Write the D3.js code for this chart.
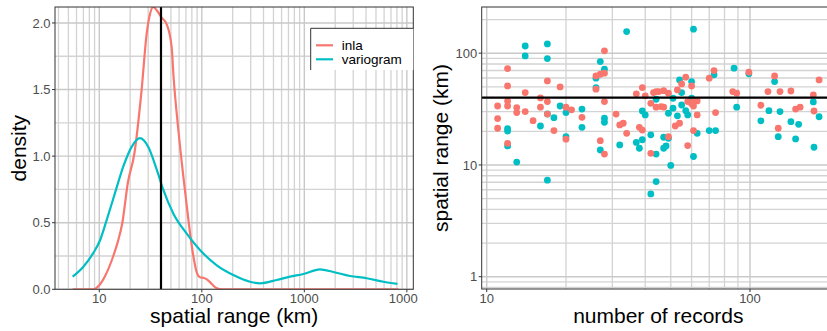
<!DOCTYPE html>
<html>
<head>
<meta charset="utf-8">
<script src="https://cdn.jsdelivr.net/npm/d3@7"></script>
<style>
  body { margin: 0; background: #fff; }
  svg { display: block; font-family: "Liberation Sans", Arial, sans-serif; }
</style>
</head>
<body>
<div id="chart"></div>
<script>
// ---- data ----
const seriesNames = ["inla", "variogram"];
const seriesColors = ["#F8766D", "#00BFC4"];

// density curves: spatial range (km) vs density
const inlaRange = [5.5, 8.7, 10, 11.4, 13.7, 15.2, 16.8, 19, 22, 25.9, 29, 31.3, 33.6, 36, 40.6, 45.5, 50.8, 53, 59, 66, 73.8, 81.5, 89, 96, 105, 112, 125, 140, 160, 8280];
const inlaDensity = [0, 0, 0.03, 0.1, 0.25, 0.36, 0.5, 0.8, 1.02, 1.5, 1.92, 2.07, 2.12, 2.1, 2.04, 1.99, 1.82, 1.6, 1.2, 0.85, 0.53, 0.28, 0.13, 0.09, 0.085, 0.075, 0.04, 0.008, 0, 0];
const varioRange = [5.5, 7, 8.7, 10.2, 11.8, 14.2, 17.1, 20.7, 24.9, 30, 36.3, 42, 52.7, 71, 96, 140, 203, 295, 370, 537, 725, 980, 1420, 1920, 2790, 4060, 5900, 8090];
const varioDensity = [0.095, 0.17, 0.27, 0.37, 0.52, 0.72, 0.92, 1.07, 1.135, 1.07, 0.9, 0.75, 0.57, 0.42, 0.295, 0.18, 0.107, 0.057, 0.045, 0.07, 0.095, 0.115, 0.15, 0.13, 0.10, 0.083, 0.057, 0.04];

// scatter: [number of records, spatial range km]
const inlaPoints = [
  [12,72.8],[12,50.9],[17,56.5],[19,49.9],[14,44.4],[16,39.8],[17,36.9],[12,37.4],[12,33.7],[11,33.7],
  [13,32.6],[13,29.4],[14,30.0],[16,32.9],[17,28.5],[11,26.0],[11,21.3],[15,24.9],[18,20.3],[12,15.6],
  [20,17.0],[20,32.9],[21,31.1],
  [28,105],[28,66.2],[27,64.8],[26,62.6],[26,47.6],[28,36.9],[23,26.7],[27,16.5],[28,12.5],[31,28.5],
  [32,22.8],[33,23.6],[34,19.2],[37,43.3],[39,49.2],[40,41.5],[42,35.6],[44,32.9],[44,45.3],[43,44.4],
  [38,21.7],[39,20.5],[42,12.7],
  [73,69.9],[70,59.7],[57,61],[60,50.9],[55,53.1],[53,46.9],[47,46.2],[45,45.3],[49,43.9],[86,45.3],
  [89,43.9],[46,33.3],[47,32.9],[58,36.9],[61,36.9],[63,37.4],[61,33.7],[60,35.2],[63,28],[74,29.4],
  [54,23.6],[52,22.3],[49,17.9],[61,20.3],[58,14.9],
  [99,67.6],[124,62.6],[183,57.7],[117,45.3],[130,45.3],[143,45.9],[174,42.4],[110,34.2],[149,31.6],
  [155,32.9],[175,30.4],[128,21.3]
];
const varioPoints = [
  [14,116],[17,121],[14,94.6],[17,89.5],[19,33.7],[17,28.6],[20,29.4],[18,26.5],[12,21.1],[12,20.1],
  [16,22.3],[12,14.8],[13,10.6],[17,7.3],[20,17.9],
  [34,156],[27,84.1],[28,71.9],[26,59.7],[26,49.2],[23,31.6],[23,21.7],[28,26.2],[28,24.1],[27,13.6],
  [32,15.1],[39,30.4],[40,28],[42,18.6],[37,15.9],[38,14.1],[39,16.8],[44,12.5],[44,7.1],[42,5.5],[44,38.7],
  [61,164],[87,73.5],[73,64],[54,57.7],[60,55.7],[55,44.4],[60,39.5],[51,39.5],[89,32.9],[55,34.4],
  [51,32.2],[49,29],[57,30.6],[58,28],[53,27.5],[47,17.7],[49,17.3],[48,14.8],[47,14.1],[50,9.9],
  [61,11.9],[63,19.2],[70,20.3],[74,20.3],
  [99,65.3],[124,55.7],[174,36.6],[183,27],[118,30.6],[130,30],[110,24.8],[143,24.4],[153,23.1],
  [128,17.9],[149,17.1],[175,14.4]
];

const refRange = 40;
const leftXTicks = [10, 100, 1000, 10000];
const leftYTicks = [0, 0.5, 1.0, 1.5, 2.0];
const leftYMinor = [0.25, 0.75, 1.25, 1.75];
const rightXTicks = [10, 100];
const rightYTicks = [1, 10, 100];

// ---- layout ----
const W = 827, H = 331;
const GRID_MAJOR = "#c9c9c9", GRID_MINOR = "#d3d3d3", BORDER = "#333333", TICK_TXT = "#4d4d4d";

const svg = d3.select("#chart").append("svg")
  .attr("width", W)
  .attr("height", H);

// log minor values (2..9 x 10^n) inside a domain
function logMinors(domain) {
  const out = [];
  for (let e = Math.floor(Math.log10(domain[0])) - 1; e <= Math.ceil(Math.log10(domain[1])); e++) {
    for (let k = 2; k <= 9; k++) {
      const v = k * Math.pow(10, e);
      if (v > domain[0] && v < domain[1]) out.push(v);
    }
  }
  return out;
}

function drawFrame(g, box, x, y, xMajor, xMinor, yMajor, yMinor, clipId) {
  g.append("clipPath").attr("id", clipId)
    .append("rect")
      .attr("x", box.left).attr("y", box.top)
      .attr("width", box.right - box.left).attr("height", box.bottom - box.top);

  g.append("rect")
    .attr("x", box.left).attr("y", box.top)
    .attr("width", box.right - box.left).attr("height", box.bottom - box.top)
    .attr("fill", "#fff");

  const grid = g.append("g").attr("clip-path", `url(#${clipId})`);
  grid.selectAll(".vmin").data(xMinor).enter().append("line")
    .attr("x1", d => x(d)).attr("x2", d => x(d))
    .attr("y1", box.top).attr("y2", box.bottom)
    .attr("stroke", GRID_MINOR).attr("stroke-width", 1.3);
  grid.selectAll(".hmin").data(yMinor).enter().append("line")
    .attr("y1", d => y(d)).attr("y2", d => y(d))
    .attr("x1", box.left).attr("x2", box.right)
    .attr("stroke", GRID_MINOR).attr("stroke-width", 1.3);
  grid.selectAll(".vmaj").data(xMajor).enter().append("line")
    .attr("x1", d => x(d)).attr("x2", d => x(d))
    .attr("y1", box.top).attr("y2", box.bottom)
    .attr("stroke", GRID_MAJOR).attr("stroke-width", 1.4);
  grid.selectAll(".hmaj").data(yMajor).enter().append("line")
    .attr("y1", d => y(d)).attr("y2", d => y(d))
    .attr("x1", box.left).attr("x2", box.right)
    .attr("stroke", GRID_MAJOR).attr("stroke-width", 1.4);
  return grid;
}

function drawAxes(g, box, x, y, xTicks, yTicks, xFmt, yFmt) {
  g.append("rect")
    .attr("x", box.left).attr("y", box.top)
    .attr("width", box.right - box.left).attr("height", box.bottom - box.top)
    .attr("fill", "none").attr("stroke", BORDER).attr("stroke-width", 1);

  g.selectAll(".xt").data(xTicks).enter().append("line")
    .attr("x1", d => x(d)).attr("x2", d => x(d))
    .attr("y1", box.bottom).attr("y2", box.bottom + 3)
    .attr("stroke", BORDER);
  g.selectAll(".xl").data(xTicks).enter().append("text")
    .attr("x", d => x(d)).attr("y", box.bottom + 13.5)
    .attr("text-anchor", "middle").attr("font-size", "13px").attr("fill", TICK_TXT)
    .text(xFmt);

  g.selectAll(".yt").data(yTicks).enter().append("line")
    .attr("y1", d => y(d)).attr("y2", d => y(d))
    .attr("x1", box.left - 3).attr("x2", box.left)
    .attr("stroke", BORDER);
  g.selectAll(".yl").data(yTicks).enter().append("text")
    .attr("x", box.left - 4.5).attr("y", d => y(d) + 4.6)
    .attr("text-anchor", "end").attr("font-size", "13px").attr("fill", TICK_TXT)
    .text(yFmt);
}

// ---- left: density ----
const LB = { left: 55, right: 413.3, top: 7, bottom: 289.3 };
const xL = d3.scaleLog().domain([3.7, 11560]).range([LB.left, LB.right]);
const yL = d3.scaleLinear().domain([0, 2.12]).range([LB.bottom, LB.top]);

const left = svg.append("g");
left.append("clipPath").attr("id", "leftClip")
  .append("rect").attr("x", 0).attr("y", 0).attr("width", 418).attr("height", H);
left.attr("clip-path", "url(#leftClip)");

const lgrid = drawFrame(left, LB, xL, yL, leftXTicks, logMinors(xL.domain()), leftYTicks, leftYMinor, "lp");

const line = d3.line()
  .x(d => xL(d[0]))
  .y(d => yL(d[1]))
  .curve(d3.curveMonotoneX);

const curves = [d3.zip(inlaRange, inlaDensity), d3.zip(varioRange, varioDensity)];
lgrid.selectAll(".curve").data(curves).enter().append("path")
  .attr("d", line)
  .attr("fill", "none")
  .attr("stroke", (d, i) => seriesColors[i])
  .attr("stroke-width", 2.2);

lgrid.append("line")
  .attr("x1", xL(refRange)).attr("x2", xL(refRange))
  .attr("y1", LB.top).attr("y2", LB.bottom)
  .attr("stroke", "#000").attr("stroke-width", 2.2);

drawAxes(left, LB, xL, yL, leftXTicks, leftYTicks, d => d3.format("d")(d), d => d3.format(".1f")(d));

// legend
const lg = left.append("g");
lg.append("rect")
  .attr("x", 310.7).attr("y", 28.3).attr("width", LB.right - 310.7).attr("height", 41.7)
  .attr("fill", "#fff");
lg.append("path")
  .attr("d", `M${LB.right},28.3H310.7V70`)
  .attr("fill", "none").attr("stroke", BORDER).attr("stroke-width", 1);
seriesNames.forEach((name, i) => {
  const cy = 45.3 + i * 14;
  lg.append("line")
    .attr("x1", 316).attr("x2", 333).attr("y1", cy).attr("y2", cy)
    .attr("stroke", seriesColors[i]).attr("stroke-width", 2.2);
  lg.append("text")
    .attr("x", 341.7).attr("y", cy + 5)
    .attr("font-size", "13.5px").attr("fill", "#000")
    .text(name);
});

left.append("text")
  .attr("x", (LB.left + LB.right) / 2).attr("y", 323.3)
  .attr("text-anchor", "middle").attr("font-size", "21px")
  .text("spatial range (km)");
left.append("text")
  .attr("transform", `translate(25.5, ${(LB.top + LB.bottom) / 2}) rotate(-90)`)
  .attr("text-anchor", "middle").attr("font-size", "21px")
  .text("density");

// ---- right: scatter ----
const RB = { left: 481.7, right: 835, top: 7, bottom: 289 };
const xR = d3.scaleLog().domain([9.57, 210.3]).range([RB.left, RB.right]);
const yR = d3.scaleLog().domain([0.776, 259]).range([RB.bottom, RB.top]);

const right = svg.append("g");
const rgrid = drawFrame(right, RB, xR, yR, rightXTicks, logMinors(xR.domain()), rightYTicks, logMinors(yR.domain()), "rp");

rgrid.selectAll(".pv").data(varioPoints).enter().append("circle")
  .attr("cx", d => xR(d[0])).attr("cy", d => yR(d[1])).attr("r", 3.4)
  .attr("fill", seriesColors[1]);
rgrid.selectAll(".pi").data(inlaPoints).enter().append("circle")
  .attr("cx", d => xR(d[0])).attr("cy", d => yR(d[1])).attr("r", 3.4)
  .attr("fill", seriesColors[0]);

rgrid.append("line")
  .attr("x1", RB.left).attr("x2", RB.right)
  .attr("y1", yR(refRange)).attr("y2", yR(refRange))
  .attr("stroke", "#000").attr("stroke-width", 2.2);

drawAxes(right, RB, xR, yR, rightXTicks, rightYTicks, d => String(d), d => String(d));

right.append("text")
  .attr("x", (RB.left + RB.right) / 2).attr("y", 323.3)
  .attr("text-anchor", "middle").attr("font-size", "21px")
  .text("number of records");
right.append("text")
  .attr("transform", `translate(448, ${(RB.top + RB.bottom) / 2}) rotate(-90)`)
  .attr("text-anchor", "middle").attr("font-size", "21px")
  .text("spatial range (km)");
</script>
</body>
</html>
